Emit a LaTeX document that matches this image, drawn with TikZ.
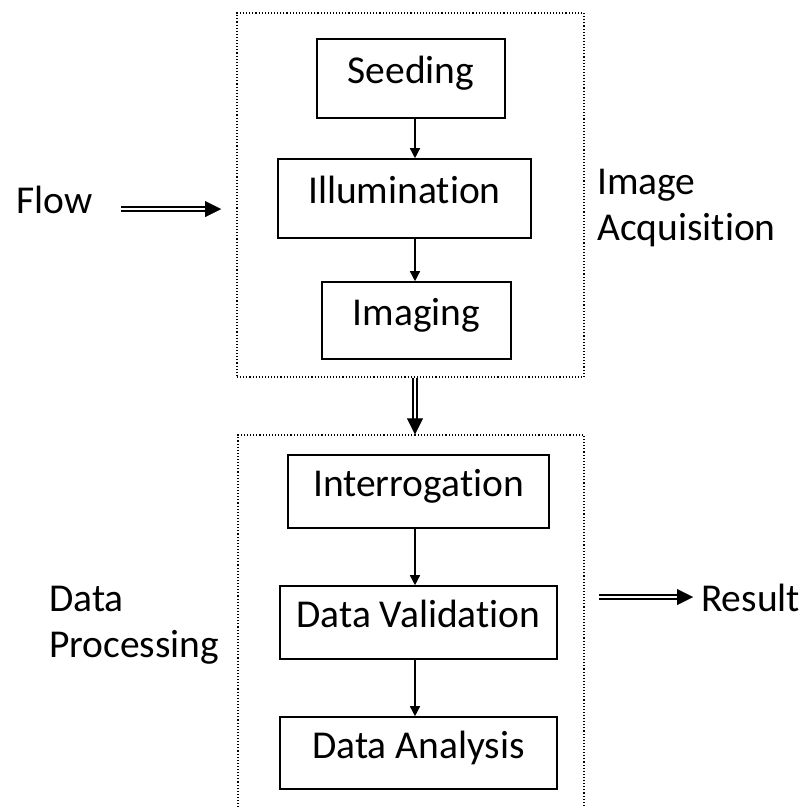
\documentclass[tikz,border=0pt]{standalone}
\usepackage{fontspec}
\setmainfont{Carlito}[Ligatures={NoCommon,NoContextual}]
\usetikzlibrary{arrows.meta,calc}
\begin{document}
\begin{tikzpicture}[x=1pt,y=-1pt,
  txt/.style={font=\fontsize{39.5}{46}\selectfont},
  box/.style={txt, draw, line width=1.6pt, inner sep=0pt, text height=20pt, text depth=10pt},
  lbl/.style={txt, inner sep=0pt, align=left},
  group/.style={draw, line width=1.1pt, dotted, inner sep=0pt},
  flowarrow/.style={line width=1.4pt, -{Triangle[length=10pt,width=10pt]}},
  dbl/.style={double, double distance=2.6pt, line width=1.3pt},
  dblhead/.style={-{Triangle[length=16pt,width=16pt]}, line width=0.01pt}]
\useasboundingbox (0,0) rectangle (803,807);
\clip (0,0) rectangle (803,807);
\fill[white] (0,0) rectangle (803,807);
\coordinate (axis) at (415,0);
% groups
\node[group, minimum width=347pt, minimum height=364pt] (acq) at (410.5,195) {};
\node[group, minimum width=346pt, minimum height=400pt] (proc) at (411,635) {};
% steps
\node[box, minimum width=188pt, minimum height=79pt] (seed) at (411,78.5) {Seeding};
\node[box, minimum width=253pt, minimum height=79pt] (illum) at (404.5,198.5) {Illumination};
\node[box, minimum width=189pt, minimum height=77pt] (imag) at (416.5,320.5) {Imaging};
\node[box, minimum width=261pt, minimum height=73pt] (inter) at (418.5,491.5) {Interrogation};
\node[box, minimum width=277pt, minimum height=73pt] (valid) at (418.5,622.5) {Data Validation};
\node[box, minimum width=277pt, minimum height=72pt] (anal) at (418.5,753) {Data Analysis};
% side labels
\node[lbl, anchor=base west] (flowlbl) at (16,213) {Flow};
\node[lbl, anchor=base west] (reslbl) at (701,611) {Result};
\node[lbl, anchor=base west] (acqlbl) at (597,240) {Image\\Acquisition};
\node[lbl, anchor=base west] (proclbl) at (49,657) {Data\\Processing};
% single arrows
\draw[flowarrow] (seed.south -| axis) -- (illum.north -| axis);
\draw[flowarrow] (illum.south -| axis) -- (imag.north -| axis);
\draw[flowarrow] (inter.south -| axis) -- (valid.north -| axis);
\draw[flowarrow] (valid.south -| axis) -- (anal.north -| axis);
% double arrows
\coordinate (flowtail) at (121,209);
\coordinate (flowtip) at (221,209);
\draw[dbl, shorten >=14pt] (flowtail) -- (flowtip);
\draw[dblhead] ($(flowtip)+(-17,0)$) -- (flowtip);
\coordinate (midtail) at (acq.south -| axis);
\coordinate (midtip) at (proc.north -| axis);
\draw[dbl, shorten >=13pt] (midtail) -- (midtip);
\draw[dblhead] ($(midtip)+(0,-16)$) -- (midtip);
\coordinate (restail) at (599,597);
\coordinate (restip) at (693,597);
\draw[dbl, shorten >=14pt] (restail) -- (restip);
\draw[dblhead] ($(restip)+(-17,0)$) -- (restip);
\end{tikzpicture}
\end{document}
